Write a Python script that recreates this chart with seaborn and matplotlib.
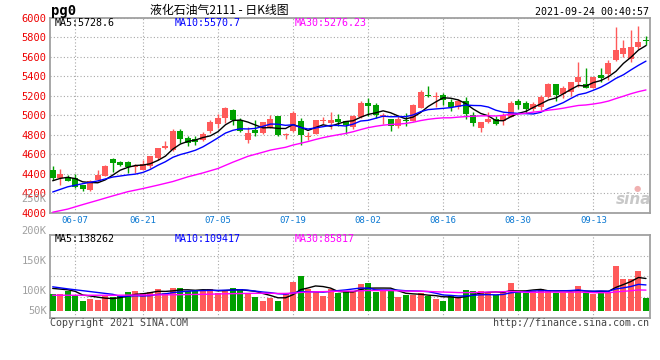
import matplotlib
matplotlib.use('Agg')
import matplotlib.pyplot as plt
import numpy as np
import pandas as pd
import seaborn as sns

# LPG futures 2111, daily K line
opens = [4439, 4357, 4370, 4357, 4282, 4235, 4337, 4377, 4554, 4520,
         4520, 4466, 4445, 4485, 4561, 4663, 4643, 4840, 4765, 4752,
         4745, 4840, 4915, 4969, 5058, 4956, 4750, 4853, 4819, 4867,
         4990, 4799, 4840, 4942, 4780, 4813, 4942, 4921, 4962, 4942,
         4880, 4979, 5129, 5109, 4995, 4966, 4891, 4955, 4946, 5074,
         5207, 5183, 5204, 5135, 5081, 5150, 5007, 4870, 4931, 4966,
         4938, 4986, 5143, 5122, 5061, 5088, 5190, 5323, 5214, 5234,
         5336, 5323, 5282, 5411, 5425, 5561, 5630, 5574, 5700, 5768]
highs = [4479, 4449, 4390, 4398, 4290, 4337, 4439, 4490, 4565, 4530,
         4530, 4500, 4541, 4581, 4663, 4734, 4860, 4860, 4785, 4785,
         4826, 4949, 5017, 5084, 5064, 4976, 4880, 4949, 4928, 5003,
         4990, 4819, 5044, 4969, 4833, 4956, 4982, 5030, 5010, 4942,
         5007, 5150, 5176, 5130, 5020, 4966, 4990, 5020, 5116, 5254,
         5298, 5237, 5224, 5163, 5170, 5183, 5033, 4931, 5033, 4990,
         5020, 5142, 5170, 5142, 5136, 5204, 5333, 5323, 5302, 5336,
         5540, 5479, 5390, 5486, 5568, 5907, 5765, 5874, 5915, 5813]
lows = [4337, 4286, 4323, 4255, 4227, 4221, 4323, 4377, 4418, 4479,
        4405, 4405, 4439, 4459, 4541, 4650, 4635, 4717, 4690, 4697,
        4738, 4819, 4874, 4921, 4901, 4826, 4717, 4785, 4813, 4867,
        4785, 4760, 4833, 4697, 4745, 4806, 4915, 4860, 4894, 4806,
        4864, 4970, 4993, 4970, 4908, 4843, 4867, 4890, 4946, 5074,
        5183, 5088, 5102, 5047, 5064, 4966, 4891, 4830, 4918, 4898,
        4905, 4986, 5061, 5020, 5040, 5050, 5176, 5150, 5180, 5193,
        5290, 5275, 5275, 5336, 5364, 5554, 5601, 5547, 5676, 5720]
closes = [4357, 4398, 4330, 4268, 4241, 4323, 4384, 4479, 4513, 4493,
          4466, 4479, 4500, 4581, 4663, 4684, 4840, 4759, 4717, 4731,
          4813, 4928, 4969, 5071, 4949, 4840, 4820, 4819, 4928, 4962,
          4799, 4812, 5023, 4799, 4790, 4949, 4950, 4949, 4928, 4901,
          4990, 5129, 5095, 5007, 5005, 4891, 4966, 4945, 5102, 5237,
          5200, 5197, 5156, 5081, 5150, 5013, 4918, 4931, 4959, 4911,
          5000, 5122, 5102, 5061, 5115, 5183, 5319, 5207, 5275, 5336,
          5390, 5282, 5390, 5377, 5533, 5663, 5690, 5703, 5745, 5762]
volumes = [73, 73, 87, 68, 44, 51, 48, 65, 59, 65,
           82, 88, 78, 84, 95, 79, 100, 100, 85, 85,
           91, 97, 79, 91, 100, 95, 79, 60, 44, 57,
           44, 79, 128, 154, 95, 88, 66, 94, 79, 87,
           87, 119, 123, 82, 87, 85, 62, 68, 68, 78,
           66, 51, 44, 65, 59, 91, 88, 88, 77, 68,
           84, 123, 82, 79, 88, 97, 91, 79, 82, 82,
           110, 77, 72, 87, 79, 198, 139, 139, 175, 57]  # thousand lots

holidays = ['2021-06-14', '2021-09-20', '2021-09-21']
tick_dates = ['06-07', '06-21', '07-05', '07-19', '08-02', '08-16', '08-30', '09-13']

# moving averages before enough bars exist come from earlier history ->
ma5_head = [4330, 4354, 4365, 4352]
ma10_head_idx = [0, 2, 4, 6, 8]
ma10_head = [4215, 4268, 4300, 4328, 4368]
ma30_head_idx = [0, 2, 4, 6, 8, 10, 12, 14, 16, 18, 20, 22, 24, 26, 28]
ma30_head = [4008, 4040, 4086, 4130, 4175, 4218, 4250, 4285, 4322, 4370,
             4410, 4455, 4520, 4580, 4622]
vma5_head = [98, 95, 92, 85]
vma10_head = [105, 96, 88, 80, 72]
vma30_head_idx = [0, 4, 8, 12, 16, 20, 24, 28]
vma30_head = [68, 68, 68, 69, 70, 72, 75, 77]

price_ticks = list(range(4000, 6001, 200))
vol_labels = ['250K', '200K', '150K', '100K', '50K']

RED = '#ff5a5a'
GREEN = '#00a000'
BLUE = '#0000ff'
MAGENTA = '#ff00ff'
GRID = '#a8a8a8'
W, H = 660, 360

df = pd.DataFrame({'open': opens, 'high': highs, 'low': lows, 'close': closes,
                   'volume': np.array(volumes) * 1000},
                  index=pd.bdate_range('2021-06-02', '2021-09-24', freq='C', holidays=holidays))
df['x'] = np.arange(len(df))
df['color'] = np.where(df.close >= df.open, RED, GREEN)
tick_pos = [list(df.index.strftime('%m-%d')).index(d) for d in tick_dates]


def ma_line(series, n, head_idx, head):
    # rolling mean where available, chart readings for the first n-1 bars
    rolled = series.rolling(n).mean()
    xs = list(head_idx) + list(df.x[n - 1:])
    ys = list(head) + list(rolled[n - 1:])
    return xs, ys


sns.set_theme(style='white')
plt.rcParams['font.family'] = ['DejaVu Sans Mono', 'Noto Sans CJK SC']

fig = plt.figure(figsize=(W / 100, H / 100), dpi=100)
ax = fig.add_axes([50 / W, 1 - 213 / H, 599.5 / W, 195.5 / H])
axv = fig.add_axes([50 / W, 1 - 318 / H, 599.5 / W, 83.3 / H])

xlim = (-0.36, 79.47)

# ---- price panel
ax.vlines(df.x, df.low, df.high, colors=df.color, lw=1, zorder=2)
body_h = np.maximum((df.close - df.open).abs(), 8)
ax.bar(df.x, body_h, bottom=np.minimum(df.open, df.close), width=0.8,
       color=df.color, linewidth=0, zorder=3)

for n, hidx, head, col in [(5, range(4), ma5_head, 'black'),
                           (10, ma10_head_idx, ma10_head, BLUE),
                           (30, ma30_head_idx, ma30_head, MAGENTA)]:
    xs, ys = ma_line(df.close, n, hidx, head)
    sns.lineplot(x=xs, y=ys, ax=ax, color=col, lw=1, zorder=4, legend=False)

ax.set_xlim(*xlim)
ax.set_ylim(4000, 6000)
ax.set_yticks(price_ticks)
ax.set_yticklabels([str(t) for t in price_ticks], color='#ee0000', fontsize=7.5)
ax.set_xticks(tick_pos)
ax.set_xticklabels(tick_dates, color='#0a78d2', fontsize=6.5)
ax.tick_params(length=0, pad=2.5)
ax.grid(True, color=GRID, ls=(0, (1, 2)), lw=0.8)
ax.set_xlabel('')
ax.set_ylabel('')

# ---- volume panel
axv.bar(df.x, df.volume, width=0.8, color=df.color, linewidth=0, zorder=3)
for n, hidx, head, col in [(5, range(4), vma5_head, 'black'),
                           (10, ma10_head_idx, vma10_head, BLUE),
                           (30, vma30_head_idx, vma30_head, MAGENTA)]:
    xs, ys = ma_line(df.volume, n, hidx, np.array(head) * 1000)
    sns.lineplot(x=xs, y=ys, ax=axv, color=col, lw=1, zorder=4, legend=False)

vlim = (-32000, 334000)
axv.set_xlim(*xlim)
axv.set_ylim(*vlim)
axv.set_yticks(np.linspace(vlim[0], vlim[1], 5)[1:4])
axv.set_yticklabels([])
axv.set_xticks(tick_pos)
axv.set_xticklabels([])
axv.tick_params(length=0)
axv.grid(True, color=GRID, ls=(0, (1, 2)), lw=0.8)
axv.set_xlabel('')
axv.set_ylabel('')

for a in (ax, axv):
    for s in a.spines.values():
        s.set_color('#a0a0a0')
        s.set_linewidth(1.3)


def px_text(x, y, s, **kw):
    kw.setdefault('fontsize', 7.2)
    kw.setdefault('va', 'center')
    fig.text(x / W, 1 - y / H, s, **kw)


# header
px_text(51, 11, 'pg0', fontsize=10, weight='bold', color='black')
px_text(219, 10.5, '液化石油气2111 - 日K线图', ha='center', fontsize=8.6,
        family=['Noto Sans CJK SC', 'DejaVu Sans'], color='black')
px_text(649, 12, '2021-09-24 00:40:57', ha='right', color='black')

# MA legends
px_text(55, 23.5, 'MA5:%.1f' % 5728.6, color='black')
px_text(175, 23.5, 'MA10:%.1f' % 5570.7, color=BLUE)
px_text(295, 23.5, 'MA30:%.2f' % 5276.23, color=MAGENTA)
px_text(55, 238.5, 'MA5:138262', color='black')
px_text(175, 238.5, 'MA10:109417', color=BLUE)
px_text(295, 238.5, 'MA30:85817', color=MAGENTA)

# volume axis labels (sina puts them slightly off the grid)
for lab, y in zip(vol_labels, [198.7, 230.7, 260.7, 290.7, 310.7]):
    px_text(46.7, y, lab, ha='right', color='#a0a0a0', fontsize=7.5)

# watermark
px_text(634, 200, 'sina', ha='center', fontsize=11, style='italic', weight='bold',
        color='#c8c8c8', family='DejaVu Sans')
px_text(637, 189, '\u25cf', ha='center', fontsize=6, color='#f0b0b0', family='DejaVu Sans')

# footer
px_text(50, 323.5, 'Copyright 2021 SINA.COM', color='#444444')
px_text(649, 323.5, 'http://finance.sina.com.cn', ha='right', color='#444444')

fig.savefig('out.png', dpi=100)
